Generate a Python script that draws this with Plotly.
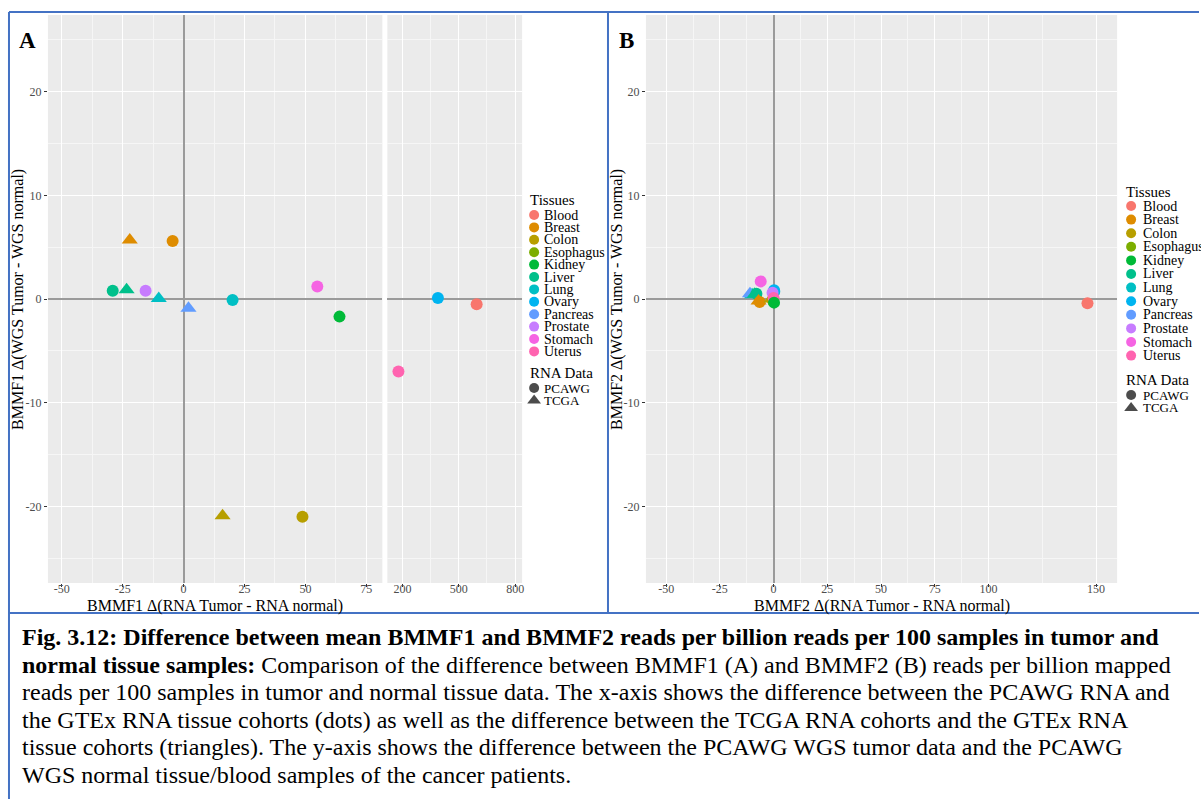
import plotly.graph_objects as go

# ---- figure canvas (pixels) ----
W, H = 1201, 799

def px(x):
    return x / W

def py(y):
    return 1 - y / H

# ---- tissue palette ----
tissues = ["Blood", "Breast", "Colon", "Esophagus", "Kidney", "Liver",
           "Lung", "Ovary", "Pancreas", "Prostate", "Stomach", "Uterus"]
tissue_colors = ["#F8766D", "#DE8C00", "#B79F00", "#7CAE00", "#00BA38", "#00C08B",
                 "#00BFC4", "#00B4F0", "#619CFF", "#C77CFF", "#F564E3", "#FF64B0"]
sources = ["PCAWG", "TCGA"]
source_symbols = {"PCAWG": "circle", "TCGA": "triangle-up"}
source_sizes = {"PCAWG": 12, "TCGA": 14}

# ---- panel A: BMMF1 ----
a_tissue = ["Liver", "Liver", "Breast", "Breast", "Prostate", "Lung", "Pancreas",
            "Lung", "Stomach", "Kidney", "Colon", "Colon", "Uterus", "Ovary", "Blood"]
a_source = ["PCAWG", "TCGA", "TCGA", "PCAWG", "PCAWG", "TCGA", "TCGA",
            "PCAWG", "PCAWG", "PCAWG", "TCGA", "PCAWG", "PCAWG", "PCAWG", "PCAWG"]
a_x = [-29.1, -23.4, -22.1, -4.5, -15.6, -10.2, 2.0,
       20.1, 54.9, 64.0, 16.0, 48.8, 179, 389, 595]
a_y = [0.8, 0.9, 5.7, 5.6, 0.8, 0.05, -0.9,
       -0.1, 1.2, -1.7, -20.9, -21.0, -7.0, 0.1, -0.5]
a_break = 100  # x values above this go to the right-hand (zoomed out) segment

# ---- panel B: BMMF2 ----
b_tissue = ["Blood", "Lung", "Pancreas", "Liver", "Liver", "Breast", "Breast", "Colon",
            "Colon", "Stomach", "Lung", "Ovary", "Prostate", "Uterus", "Kidney"]
b_source = ["PCAWG", "TCGA", "TCGA", "TCGA", "PCAWG", "PCAWG", "TCGA", "TCGA",
            "PCAWG", "PCAWG", "PCAWG", "PCAWG", "PCAWG", "PCAWG", "PCAWG"]
b_x = [146, -10.0, -11.0, -8.8, -8.0, -6.5, -7.0, -1.0,
       -0.5, -6.0, 0.3, 0.2, -0.5, 0.0, 0.2]
b_y = [-0.4, 0.4, 0.5, 0.45, 0.5, -0.3, -0.2, 0.0,
       -0.1, 1.7, 0.7, 0.85, 0.6, 0.1, -0.35]

# ---- tick settings ----
y_ticks = [-20, -10, 0, 10, 20]
y_minor = [-25, -15, -5, 5, 15, 25]
a_left_ticks = [-50, -25, 0, 25, 50, 75]
a_left_minor = [-37.5, -12.5, 12.5, 37.5, 62.5]
a_right_ticks = [200, 500, 800]
a_right_minor = [350, 650]
b_ticks = [-50, -25, 0, 25, 50, 75, 100, 150]
b_minor = [-37.5, -12.5, 12.5, 37.5, 62.5, 87.5, 125]

SERIF = "Liberation Serif"
PANEL_BG = "#EBEBEB"
TICK_COLOR = "#4D4D4D"
ZERO_COLOR = "#9A9A9A"
BORDER = "#4472C4"

fig = go.Figure()


def add_points(xs, ys, ts, ss, xaxis, yaxis, keep=lambda v: True):
    for x, y, t, s in zip(xs, ys, ts, ss):
        if not keep(x):
            continue
        fig.add_trace(go.Scatter(
            x=[x], y=[y], mode="markers", xaxis=xaxis, yaxis=yaxis,
            marker=dict(symbol=source_symbols[s], size=source_sizes[s],
                        color=tissue_colors[tissues.index(t)], line=dict(width=0)),
            showlegend=False, hoverinfo="skip"))


add_points(a_x, a_y, a_tissue, a_source, "x", "y", keep=lambda v: v <= a_break)
add_points(a_x, a_y, a_tissue, a_source, "x2", "y2", keep=lambda v: v > a_break)
add_points(b_x, b_y, b_tissue, b_source, "x3", "y3")

# ---- legends (drawn on a full-canvas pixel overlay) ----
legend_specs = [
    dict(title_x=529, title_y=200, key_x=535, text_x=543, y0=215, step=12.4,
         rna_y=373, rna_y0=388, rna_step=12.5, font=14),
    dict(title_x=1126, title_y=192, key_x=1133, text_x=1143, y0=206, step=13.6,
         rna_y=380, rna_y0=395, rna_step=13.0, font=14),
]
annotations = []
for spec in legend_specs:
    ys = [spec["y0"] + i * spec["step"] for i in range(len(tissues))]
    fig.add_trace(go.Scatter(
        x=[spec["key_x"]] * len(tissues), y=ys, mode="markers", xaxis="x4", yaxis="y4",
        marker=dict(symbol="circle", size=10, color=tissue_colors, line=dict(width=0)),
        showlegend=False, hoverinfo="skip"))
    annotations.append(dict(x=px(spec["title_x"]), y=py(spec["title_y"]), xref="paper", yref="paper",
                            text="Tissues", showarrow=False, xanchor="left", yanchor="middle",
                            font=dict(family=SERIF, size=15, color="black")))
    for name, yy in zip(tissues, ys):
        annotations.append(dict(x=px(spec["text_x"]), y=py(yy), xref="paper", yref="paper",
                                text=name, showarrow=False, xanchor="left", yanchor="middle",
                                font=dict(family=SERIF, size=spec["font"], color="black")))
    annotations.append(dict(x=px(spec["title_x"]), y=py(spec["rna_y"]), xref="paper", yref="paper",
                            text="RNA Data", showarrow=False, xanchor="left", yanchor="middle",
                            font=dict(family=SERIF, size=15, color="black")))
    rys = [spec["rna_y0"] + i * spec["rna_step"] for i in range(len(sources))]
    fig.add_trace(go.Scatter(
        x=[spec["key_x"]] * len(sources), y=rys, mode="markers", xaxis="x4", yaxis="y4",
        marker=dict(symbol=[source_symbols[s] for s in sources], size=[10, 12], color="black",
                    line=dict(width=0)),
        showlegend=False, hoverinfo="skip"))
    for name, yy in zip(sources, rys):
        annotations.append(dict(x=px(spec["text_x"]), y=py(yy), xref="paper", yref="paper",
                                text=name, showarrow=False, xanchor="left", yanchor="middle",
                                font=dict(family=SERIF, size=13, color="black")))

# ---- axis titles and panel letters ----
axis_titles = [
    ("BMMF1 \u0394(RNA Tumor - RNA normal)", 215, 606, 0),
    ("BMMF2 \u0394(RNA Tumor - RNA normal)", 883, 606, 0),
    ("BMMF1 \u0394(WGS Tumor - WGS normal)", 18, 299, -90),
    ("BMMF2 \u0394(WGS Tumor - WGS normal)", 618, 299, -90),
]
for text, x, y, ang in axis_titles:
    annotations.append(dict(x=px(x), y=py(y), xref="paper", yref="paper", text=text,
                            showarrow=False, textangle=ang, xanchor="center", yanchor="middle",
                            font=dict(family=SERIF, size=16, color="black")))
for letter, x in [("A", 28), ("B", 628)]:
    annotations.append(dict(x=px(x), y=py(40), xref="paper", yref="paper", text="<b>%s</b>" % letter,
                            showarrow=False, xanchor="center", yanchor="middle",
                            font=dict(family=SERIF, size=23, color="black")))

# ---- caption ----
caption_lines = [
    "<b>Fig. 3.12: Difference between mean BMMF1 and BMMF2 reads per billion reads per 100 samples in tumor and</b>",
    "<b>normal tissue samples:</b> Comparison of the difference between BMMF1 (A) and BMMF2 (B) reads per billion mapped",
    "reads per 100 samples in tumor and normal tissue data. The x-axis shows the difference between the PCAWG RNA and",
    "the GTEx RNA tissue cohorts (dots) as well as the difference between the TCGA RNA cohorts and the GTEx RNA",
    "tissue cohorts (triangles). The y-axis shows the difference between the PCAWG WGS tumor data and the PCAWG",
    "WGS normal tissue/blood samples of the cancer patients.",
]
for i, line in enumerate(caption_lines):
    annotations.append(dict(x=px(20), y=py(637 + i * 27.5), xref="paper", yref="paper", text=line,
                            showarrow=False, xanchor="left", yanchor="middle",
                            font=dict(family=SERIF, size=24, color="black")))

# ---- shapes: grey panels and blue frame ----
shapes = []
for xr, yr in [("x", "y"), ("x2", "y2"), ("x3", "y3")]:
    shapes.append(dict(type="rect", xref=xr + " domain", yref=yr + " domain", x0=0, x1=1, y0=0, y1=1,
                       fillcolor=PANEL_BG, line=dict(width=0), layer="below"))
frame = [
    (9, 12, 1201, 12), (9, 12, 9, 799), (609, 12, 609, 613), (9, 613, 1201, 613),
]
for x0, y0, x1, y1 in frame:
    shapes.append(dict(type="line", xref="paper", yref="paper", x0=px(x0), y0=py(y0), x1=px(x1), y1=py(y1),
                       line=dict(color=BORDER, width=2), layer="above"))

tick_font = dict(family=SERIF, size=12, color=TICK_COLOR)
ydom = [py(583), py(15)]


def xaxis_cfg(dom, rng, ticks, minor, anchor, zero):
    return dict(domain=dom, range=rng, tickvals=ticks, ticktext=[str(t) for t in ticks], anchor=anchor,
                showgrid=True, gridcolor="white", gridwidth=1.1,
                minor=dict(tickvals=minor, showgrid=True, gridcolor="#F6F6F6", gridwidth=0.6, ticks=""),
                zeroline=zero, zerolinecolor=ZERO_COLOR, zerolinewidth=1.6,
                ticks="outside", ticklen=3, tickcolor="#333333", tickwidth=1,
                ticklabelstandoff=-8,
                tickfont=tick_font, showline=False, fixedrange=True)


def yaxis_cfg(anchor, labels=True):
    return dict(domain=ydom, range=[-27.4, 27.4], tickvals=y_ticks, ticktext=[str(t) for t in y_ticks],
                anchor=anchor,
                showgrid=True, gridcolor="white", gridwidth=1.1,
                minor=dict(tickvals=y_minor, showgrid=True, gridcolor="#F6F6F6", gridwidth=0.6, ticks=""),
                zeroline=True, zerolinecolor=ZERO_COLOR, zerolinewidth=1.6,
                ticks="outside" if labels else "", ticklen=3, tickcolor="#333333", tickwidth=1,
                showticklabels=labels, tickfont=tick_font, showline=False, fixedrange=True)


fig.update_layout(
    width=W, height=H, margin=dict(l=0, r=0, t=0, b=0),
    paper_bgcolor="white", plot_bgcolor="rgba(0,0,0,0)", showlegend=False,
    xaxis=xaxis_cfg([px(48), px(383)], [-55.7, 81.6], a_left_ticks, a_left_minor, "y", True),
    yaxis=yaxis_cfg("x"),
    xaxis2=xaxis_cfg([px(388), px(523)], [120, 837], a_right_ticks, a_right_minor, "y2", False),
    yaxis2=yaxis_cfg("x2", labels=False),
    xaxis3=xaxis_cfg([px(647), px(1119)], [-59.4, 159.8], b_ticks, b_minor, "y3", True),
    yaxis3=yaxis_cfg("x3"),
    xaxis4=dict(domain=[0, 1], range=[0, W], visible=False, anchor="y4", fixedrange=True),
    yaxis4=dict(domain=[0, 1], range=[H, 0], visible=False, anchor="x4", fixedrange=True),
    annotations=annotations, shapes=shapes,
)

fig.write_html("out.html")
